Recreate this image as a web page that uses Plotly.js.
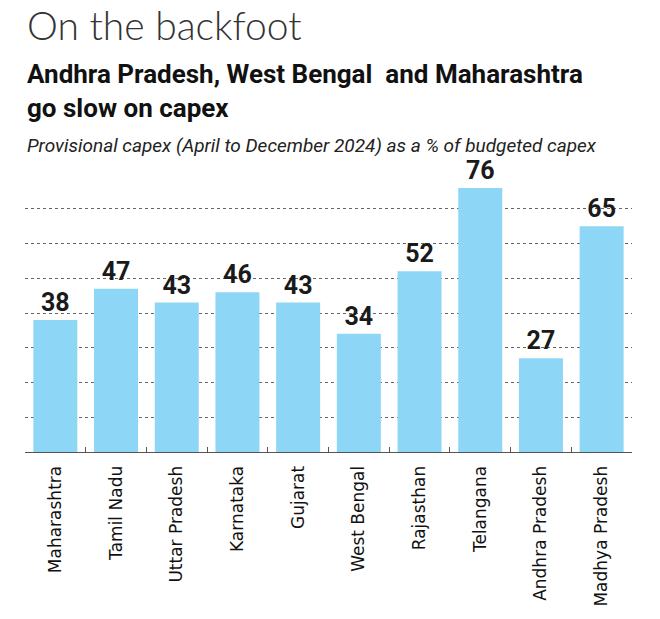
<!DOCTYPE html>
<html>
<head>
<meta charset="utf-8">
<script src="https://cdn.plot.ly/plotly-3.0.1.min.js"></script>
<style>html,body{margin:0;padding:0;background:#fff;}#chart{width:660px;height:619px;}</style>
</head>
<body>
<div id="chart"></div>
<script>
const states = ["Maharashtra","Tamil Nadu","Uttar Pradesh","Karnataka","Gujarat","West Bengal","Rajasthan","Telangana","Andhra Pradesh","Madhya Pradesh"];
const capexPct = [38,47,43,46,43,34,52,76,27,65];
const titleText = "On the backfoot";
const subtitleText = "Andhra Pradesh, West Bengal&nbsp; and Maharashtra<br>go slow on capex";
const noteText = "Provisional capex (April to December 2024) as a % of budgeted capex";

const trace = {
  type: "bar",
  x: states,
  y: capexPct,
  text: capexPct.map(String),
  textposition: "outside",
  cliponaxis: false,
  textfont: {family: "Roboto", size: 25, color: "#1a1a1a", weight: 700},
  marker: {color: "#8ed6f6"},
  hoverinfo: "x+y"
};

const layout = {
  width: 660, height: 619,
  margin: {l: 25, r: 28, t: 174, b: 167},
  paper_bgcolor: "#fff", plot_bgcolor: "#fff",
  bargap: 0.275,
  showlegend: false,
  xaxis: {
    type: "category",
    showline: true, linecolor: "#555", linewidth: 1,
    ticks: "inside", tickson: "boundaries", ticklen: 5, tickcolor: "#555",
    tickangle: -90,
    ticklabelstandoff: 6,
    tickfont: {family: "DejaVu Sans", size: 17, color: "#111"},
    showgrid: false, zeroline: false
  },
  yaxis: {
    range: [0, 80], dtick: 10,
    showticklabels: false, ticks: "",
    showgrid: true, gridcolor: "#666", griddash: "dot", gridwidth: 1,
    zeroline: false, showline: false, fixedrange: true
  },
  annotations: [
    {text: titleText, xref: "paper", yref: "paper", x: 0, y: 1.535, xanchor: "left", yanchor: "middle", showarrow: false,
     font: {family: "Lato", size: 39, color: "#333", weight: 300}},
    {text: "<b>" + subtitleText + "</b>", xref: "paper", yref: "paper", x: 0, y: 1.2986, xanchor: "left", yanchor: "middle", align: "left", showarrow: false,
     font: {family: "Roboto", size: 26, color: "#111"}},
    {text: "<i>" + noteText + "</i>", xref: "paper", yref: "paper", x: 0, y: 1.101, xanchor: "left", yanchor: "middle", showarrow: false,
     font: {family: "Roboto", size: 19, color: "#222"}}
  ]
};

Plotly.newPlot("chart", [trace], layout, {displayModeBar: false, staticPlot: true});
</script>
</body>
</html>
